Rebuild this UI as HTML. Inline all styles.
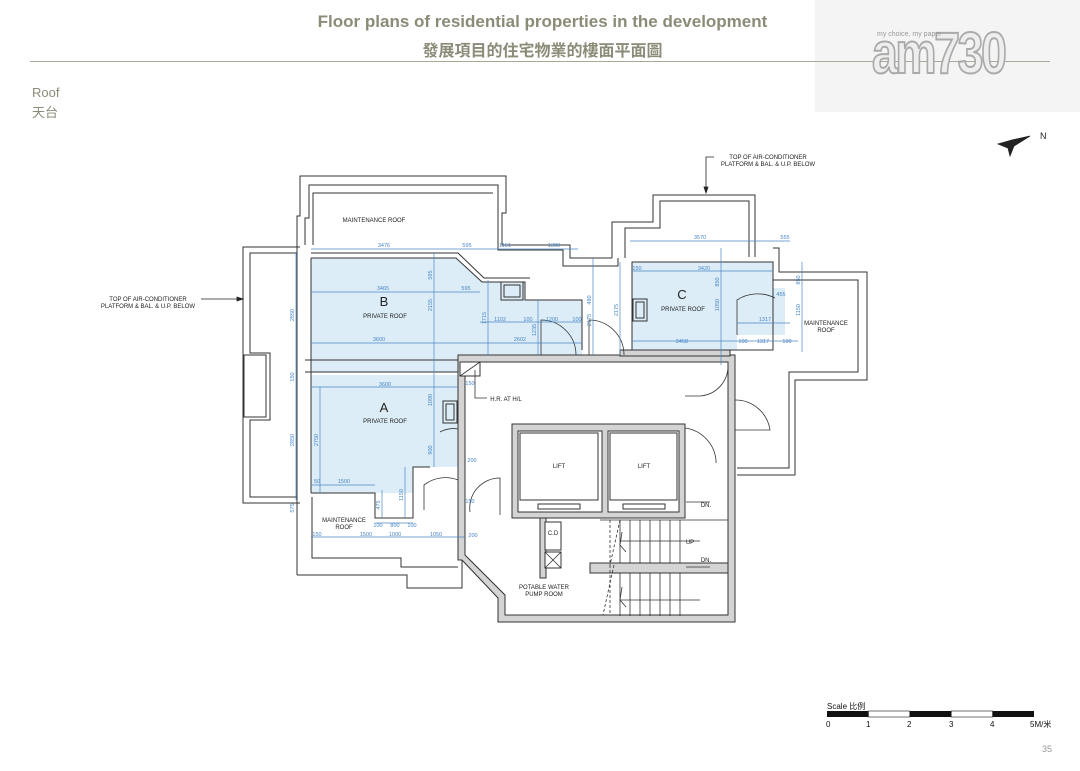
<!DOCTYPE html>
<html><head><meta charset="utf-8"><style>
html,body{margin:0;padding:0;background:#fff;}
body{width:1080px;height:771px;position:relative;overflow:hidden;font-family:"Liberation Sans","Noto Sans CJK TC",sans-serif;}
.t{position:absolute;color:#8b8b78;}
</style></head><body>
<div style="position:absolute;left:815px;top:0;width:265px;height:112px;background:#f4f4f4;"></div>
<div class="t" style="left:300px;top:12px;width:485px;text-align:center;font-size:17px;font-weight:bold;">Floor plans of residential properties in the development</div>
<div class="t" style="left:300px;top:37px;width:485px;text-align:center;font-size:16px;font-weight:bold;">發展項目的住宅物業的樓面平面圖</div>
<div style="position:absolute;left:30px;top:61px;width:1020px;height:1px;background:#a9a99a;"></div>
<div class="t" style="left:32px;top:85px;font-size:13px;">Roof</div>
<div class="t" style="left:32px;top:102px;font-size:13px;">天台</div>
<div style="position:absolute;left:872px;top:20px;font-size:58px;font-weight:bold;color:#eee;-webkit-text-stroke:2px #aaa;letter-spacing:-3px;transform:scaleX(0.8);transform-origin:left;">am730</div>
<div style="position:absolute;left:877px;top:31px;font-size:7px;color:#999;">my choice, my paper</div>

<svg width="1080" height="771" style="position:absolute;left:0;top:0" font-family="Liberation Sans, sans-serif">
<g fill="#dcedf7" stroke="none">
<polygon points="311,258 456,258 482,282 525,282 525,300 582,300 582,355 458,355 458,372 311,372"/>
<polygon points="311,375 458,375 458,467 413,467 413,493 311,493"/>
<polygon points="632,262 773,262 773,288 785,288 785,335 737,335 737,350 632,350"/>
</g>
<g fill="none" stroke="#333" stroke-width="1">
<!-- left balcony -->
<polyline points="300,247 243,247 243,503 300,503"/>
<polyline points="297,253 250,253 250,353 270,353 270,420 250,420 250,497 297,497"/>
<rect x="244" y="355" width="22" height="62"/>
<!-- top maintenance roof -->
<polyline points="297,575 297,216 300,216 300,176 506,176 506,213 502,213 502,245 570,245 570,258 612,258"/>
<polyline points="305,245 305,218 309,218 309,185 498,185 498,250 563,250 563,266 618,266 618,258"/>
<polyline points="313,245 313,193 493,193"/>
<!-- bottom left -->
<polyline points="297,575 407,575 407,588 462,588 462,555"/>
<polyline points="312,497 312,558 401,558 401,567 458,567"/>
<polyline points="311,493 375,493 375,518 413,518 413,467 430,467"/>
<!-- top right C upper -->
<polyline points="612,258 612,222 653,222 653,195 755,195 755,257"/>
<polyline points="625,258 625,228 660,228 660,201 749,201 749,257"/>
<!-- right maintenance -->
<polyline points="773,248 779,248 779,272 867,272 867,380 795,380 795,475 737,475"/>
<polyline points="773,280 858,280 858,372 789,372 789,468 737,468"/>
<rect x="632" y="262" width="141" height="88"/>
<!-- B / C bounds -->
<polyline points="311,258 456,258 482,282 525,282 525,300 582,300 582,350"/>
<polyline points="311,253 458,253 484,278 530,278"/>
<line x1="311" y1="258" x2="311" y2="493"/>
<line x1="305" y1="360" x2="458" y2="360"/>
<line x1="305" y1="372" x2="458" y2="372"/>
<rect x="501" y="282" width="22" height="18"/><rect x="504" y="285" width="16" height="12"/>
<rect x="633" y="299" width="14" height="22"/><rect x="636" y="302" width="8" height="16"/>
<rect x="443" y="401" width="14" height="22"/><rect x="446" y="404" width="8" height="16"/>
</g>
<!-- core walls -->
<g fill="#d4d4d4" stroke="#333" stroke-width="1">
<path d="M458,355 H735 V622 H498 V598 L462,560 H458 Z M465,362 V555 L505,595 V615 H728 V362 Z" fill-rule="evenodd"/>
<path d="M512,424 H685 V518 H512 Z M518,431 V512 H602 V431 Z M608,431 V512 H679 V431 Z" fill-rule="evenodd"/>
<rect x="540" y="518" width="6" height="60"/>
<rect x="590" y="563" width="138" height="10"/>
<rect x="620" y="350" width="110" height="6"/>
</g>
<g fill="#fff" stroke="#333" stroke-width="1">
<rect x="520" y="433" width="78" height="67"/><rect x="610" y="433" width="67" height="67"/>
<rect x="538" y="504" width="42" height="5"/><rect x="623" y="504" width="42" height="5"/>
<rect x="545" y="552" width="16" height="16"/>
<rect x="545" y="522" width="16" height="28"/>
<rect x="460" y="362" width="20" height="14"/>
</g>
<g stroke="#333" stroke-width="0.8" fill="none">
<line x1="545" y1="552" x2="561" y2="568"/><line x1="561" y1="552" x2="545" y2="568"/>
<line x1="460" y1="376" x2="480" y2="362"/>
<polyline points="475,370 475,398 487,398"/>
</g>
<!-- stairs -->
<g stroke="#333" stroke-width="0.8">
<line x1="600" y1="520" x2="728" y2="520"/>
<line x1="600" y1="615" x2="728" y2="615"/>
<line x1="620" y1="541" x2="700" y2="541"/>
<line x1="620" y1="600" x2="700" y2="600"/>
<g id="st"><line x1="620" y1="520" x2="620" y2="563"/><line x1="630" y1="520" x2="630" y2="563"/><line x1="640" y1="520" x2="640" y2="563"/><line x1="650" y1="520" x2="650" y2="563"/><line x1="660" y1="520" x2="660" y2="563"/><line x1="670" y1="520" x2="670" y2="563"/><line x1="680" y1="520" x2="680" y2="563"/></g>
<use href="#st" transform="translate(0,53)"/>
<line x1="610" y1="520" x2="610" y2="615" stroke-dasharray="3,2"/>
<line x1="614" y1="565" x2="603" y2="615" stroke-dasharray="3,2"/>
<line x1="620" y1="520" x2="610" y2="565" stroke-dasharray="3,2"/>
<polyline points="622,532 620,545 626,552" fill="none"/>
<polyline points="622,587 620,600 626,607" fill="none"/>
<line x1="686" y1="502" x2="710" y2="502"/><line x1="686" y1="567" x2="710" y2="567"/>
</g>
<!-- doors -->
<g stroke="#333" stroke-width="0.8" fill="none">
<path d="M541,355 V320 A35,35 0 0 1 576,355"/>
<path d="M589,355 V320 A35,35 0 0 1 624,355"/>
<path d="M737,335 V300 A38,38 0 0 1 775,298"/>
<path d="M735,400 A35,35 0 0 1 770,430 H735"/>
<path d="M728,365 A30,30 0 0 1 700,396 H685"/>
<path d="M685,428 A36,36 0 0 1 716,460 V463"/>
<path d="M440,432 A28,28 0 0 1 458,429 V465"/>
<path d="M424,510 V485 A35,35 0 0 1 458,480"/>
<path d="M470,512 A30,30 0 0 1 500,478 V515"/>
</g>
<!-- dimension lines -->
<g stroke="#4a86c5" stroke-width="0.7" fill="none">
<line x1="311" y1="249" x2="578" y2="249"/><line x1="311" y1="292" x2="480" y2="292"/>
<line x1="311" y1="343" x2="582" y2="343"/><line x1="311" y1="387" x2="458" y2="387"/>
<line x1="480" y1="322" x2="582" y2="322"/>
<line x1="630" y1="241" x2="790" y2="241"/><line x1="632" y1="271" x2="773" y2="271"/>
<line x1="632" y1="341" x2="798" y2="341"/><line x1="737" y1="323" x2="790" y2="323"/>
<line x1="311" y1="485" x2="375" y2="485"/><line x1="311" y1="537" x2="465" y2="537"/>
<line x1="375" y1="523" x2="413" y2="523"/>
<line x1="296" y1="253" x2="296" y2="500"/><line x1="320" y1="387" x2="320" y2="493"/>
<line x1="434" y1="253" x2="434" y2="467"/><line x1="488" y1="280" x2="488" y2="355"/>
<line x1="538" y1="300" x2="538" y2="355"/><line x1="593" y1="258" x2="593" y2="355"/>
<line x1="620" y1="262" x2="620" y2="355"/><line x1="721" y1="248" x2="721" y2="365"/>
<line x1="802" y1="262" x2="802" y2="352"/><line x1="405" y1="467" x2="405" y2="518"/>
<line x1="382" y1="490" x2="382" y2="518"/>
</g>
<g fill="#4a86c5" font-size="5.5" text-anchor="middle">
<text x="384" y="247">3476</text><text x="467" y="247">595</text><text x="505" y="247">1161</text><text x="554" y="247">1300</text>
<text x="383" y="290">3465</text><text x="466" y="290">595</text>
<text x="379" y="341">3600</text><text x="520" y="341">2602</text>
<text x="500" y="321">1102</text><text x="528" y="321">100</text><text x="552" y="321">1200</text><text x="577" y="321">100</text>
<text x="385" y="386">3600</text>
<text x="700" y="239">3570</text><text x="785" y="239">555</text>
<text x="704" y="270">3420</text><text x="637" y="270">150</text>
<text x="682" y="343">2458</text><text x="743" y="343">100</text><text x="763" y="343">1317</text><text x="787" y="343">100</text>
<text x="765" y="321">1317</text><text x="781" y="296">455</text>
<text x="344" y="483">1500</text><text x="317" y="483">50</text>
<text x="366" y="536">1500</text><text x="395" y="536">1000</text><text x="436" y="536">1050</text><text x="473" y="537">200</text><text x="317" y="536">150</text>
<text x="378" y="527">100</text><text x="395" y="527">800</text><text x="412" y="527">100</text>
<text x="472" y="462">200</text><text x="470" y="385">150</text><text x="470" y="503">150</text>
</g>
<g fill="#4a86c5" font-size="5.5" text-anchor="middle">
<text transform="translate(294,315) rotate(-90)">2850</text><text transform="translate(294,440) rotate(-90)">2850</text>
<text transform="translate(318,440) rotate(-90)">2750</text><text transform="translate(432,305) rotate(-90)">2155</text>
<text transform="translate(432,275) rotate(-90)">595</text><text transform="translate(432,400) rotate(-90)">1090</text>
<text transform="translate(432,450) rotate(-90)">900</text><text transform="translate(486,318) rotate(-90)">1715</text>
<text transform="translate(536,330) rotate(-90)">1235</text><text transform="translate(591,300) rotate(-90)">480</text>
<text transform="translate(591,320) rotate(-90)">2175</text><text transform="translate(618,310) rotate(-90)">2175</text>
<text transform="translate(719,305) rotate(-90)">1050</text><text transform="translate(719,282) rotate(-90)">850</text>
<text transform="translate(800,310) rotate(-90)">1150</text><text transform="translate(800,280) rotate(-90)">850</text>
<text transform="translate(403,495) rotate(-90)">1150</text><text transform="translate(380,505) rotate(-90)">475</text>
<text transform="translate(294,508) rotate(-90)">575</text><text transform="translate(294,377) rotate(-90)">150</text>
</g>
<!-- labels -->
<g fill="#222" font-size="6" text-anchor="middle">
<text x="374" y="222">MAINTENANCE ROOF</text>
<text x="384" y="306" font-size="13">B</text><text x="385" y="318">PRIVATE ROOF</text>
<text x="682" y="299" font-size="13">C</text><text x="683" y="311">PRIVATE ROOF</text>
<text x="826" y="325">MAINTENANCE</text><text x="826" y="332">ROOF</text>
<text x="384" y="412" font-size="13">A</text><text x="385" y="423">PRIVATE ROOF</text>
<text x="506" y="401">H.R. AT H/L</text>
<text x="559" y="468">LIFT</text><text x="644" y="468">LIFT</text>
<text x="344" y="522">MAINTENANCE</text><text x="344" y="529">ROOF</text>
<text x="553" y="535">C.D</text><text x="690" y="544">UP</text>
<text x="706" y="507">DN.</text><text x="706" y="562">DN.</text>
<text x="544" y="589">POTABLE WATER</text><text x="544" y="596">PUMP ROOM</text>
<text x="148" y="301">TOP OF AIR-CONDITIONER</text><text x="148" y="308">PLATFORM &amp; BAL. &amp; U.P. BELOW</text>
<text x="768" y="159">TOP OF AIR-CONDITIONER</text><text x="768" y="166">PLATFORM &amp; BAL. &amp; U.P. BELOW</text>
</g>
<g stroke="#222" stroke-width="0.8" fill="#222">
<line x1="201" y1="299" x2="240" y2="299"/><polygon points="243,299 237,297 237,301"/>
<polyline points="714,157 706,157 706,190" fill="none"/><polygon points="706,193 704,187 708,187"/>
<!-- compass -->
<polygon points="998,144 1012,140 1030,136 1014,146 1010,156 1008,148"/>
<text x="1040" y="139" font-size="9" stroke="none">N</text>
</g>
<!-- scale -->
<g>
<text x="827" y="709" font-size="8" fill="#111">Scale 比例</text>
<rect x="827" y="711" width="41.4" height="6" fill="#111"/>
<rect x="868.4" y="711" width="41.4" height="6" fill="#fff" stroke="#111" stroke-width="0.6"/>
<rect x="909.8" y="711" width="41.4" height="6" fill="#111"/>
<rect x="951.2" y="711" width="41.4" height="6" fill="#fff" stroke="#111" stroke-width="0.6"/>
<rect x="992.6" y="711" width="41.4" height="6" fill="#111"/>
<g font-size="8" fill="#111"><text x="826" y="727">0</text><text x="866" y="727">1</text><text x="907" y="727">2</text><text x="949" y="727">3</text><text x="990" y="727">4</text><text x="1030" y="727">5M/米</text></g>
<text x="1042" y="752" font-size="9" fill="#999">35</text>
</g>
</svg>
</body></html>
